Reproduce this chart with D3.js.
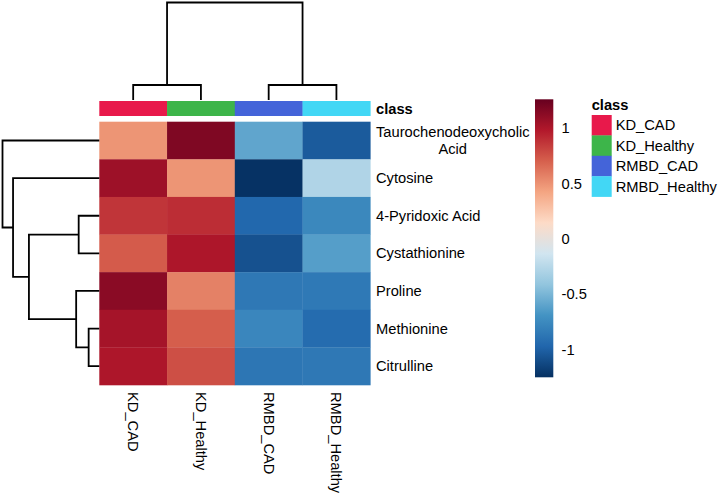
<!DOCTYPE html>
<html><head><meta charset="utf-8">
<script src="https://cdn.jsdelivr.net/npm/d3@7"></script>
<style>body{margin:0;background:#fff}svg{display:block}text{font-family:"Liberation Sans",Arial,sans-serif;fill:#000}</style>
</head><body><svg id="c" width="722" height="497"></svg>
<script>
// ---- data ----
const rows = ["Taurochenodeoxycholic\nAcid","Cytosine","4-Pyridoxic Acid","Cystathionine","Proline","Methionine","Citrulline"];
const cols = ["KD_CAD","KD_Healthy","RMBD_CAD","RMBD_Healthy"];
const kdCad       = [0.49, 1.06, 0.87, 0.72, 1.13, 1.03, 1.00];
const kdHealthy   = [1.17, 0.49, 0.90, 1.00, 0.57, 0.71, 0.77];
const rmbdCad     = [-0.59, -1.24, -0.96, -1.08, -0.86, -0.77, -0.87];
const rmbdHealthy = [-1.03, -0.28, -0.76, -0.63, -0.855, -0.935, -0.86];
const series = [kdCad, kdHealthy, rmbdCad, rmbdHealthy];
const classColors = ["#E8194B","#3DB54A","#4464D9","#42D7F5"];
const legendTicks = [1, 0.5, 0, -0.5, -1];
const legendTickLabels = ["1", "0.5", "0", "-0.5", "-1"];
const colorDomain = [-1.25, 1.26];
const palette = ["#053061","#2166AC","#4393C3","#92C5DE","#D1E5F0","#FDDBC7","#F4A582","#D6604D","#B2182B","#67001F"];
// dendrograms: [childA, childB, height]; leaves are indices, merges are "m<k>"
const rowMerges = [[5,6,1.1],[2,3,2.13],[4,"m0",2.39],["m1","m2",7.27],[1,"m3",8.91],[0,"m4",10]];
const colMerges = [[0,1,1.54],[2,3,1.54],["m0","m1",10]];

// ---- layout ----
const svg = d3.select("#c");
const hm = {x0:99.3, x1:370.3, y0:121.7, y1:385};
const x = d3.scaleBand().domain(d3.range(cols.length)).range([hm.x0, hm.x1]);
const y = d3.scaleBand().domain(d3.range(rows.length)).range([hm.y0, hm.y1]);
const color = d3.scaleLinear()
  .domain(d3.range(palette.length).map(i => colorDomain[0] + i*(colorDomain[1]-colorDomain[0])/(palette.length-1)))
  .range(palette).interpolate(d3.interpolateRgb).clamp(true);
const FS = 14.7;

// cells
series.forEach((vals, j) => {
  svg.append("g").selectAll("rect").data(vals).join("rect")
    .attr("x", x(j)).attr("y", (d,i) => y(i))
    .attr("width", x.bandwidth()+0.3).attr("height", y.bandwidth()+0.3)
    .attr("fill", d => color(d));
});

// class bar
svg.append("g").selectAll("rect").data(cols).join("rect")
  .attr("x", (d,j) => x(j)).attr("y", 101).attr("width", x.bandwidth()+0.3).attr("height", 15)
  .attr("fill", (d,j) => classColors[j]);
svg.append("text").attr("x", 376).attr("y", 109).attr("dy","0.35em")
  .attr("font-size", FS).attr("font-weight","bold").text("class");

// row labels
rows.forEach((r,i) => {
  const lines = r.split("\n");
  const cy = y(i) + y.bandwidth()/2;
  if (lines.length === 1) {
    svg.append("text").attr("x", 376).attr("y", cy).attr("dy","0.35em").attr("font-size", FS).text(r);
  } else {
    const t1 = svg.append("text").attr("x", 376).attr("y", cy-8.3).attr("dy","0.35em").attr("font-size", FS).text(lines[0]);
    const w = t1.node().getComputedTextLength();
    svg.append("text").attr("x", 376 + w/2).attr("y", cy+8.7).attr("dy","0.35em")
      .attr("text-anchor","middle").attr("font-size", FS).text(lines[1]);
  }
});

// column labels
cols.forEach((c,j) => {
  const cx = x(j) + x.bandwidth()/2, ty = 392;
  svg.append("text").attr("x", cx).attr("y", ty).attr("dy","0.35em")
    .attr("transform", `rotate(90,${cx},${ty})`).attr("font-size", FS).text(c);
});

// dendrogram helper
function dendro(merges, leafPos, hScale, horizontal) {
  const nodes = [];
  const get = k => typeof k === "number" ? {p: leafPos(k), h: 0} : nodes[+k.slice(1)];
  const g = svg.append("g").attr("fill","none").attr("stroke","#000").attr("stroke-width",1.8);
  merges.forEach(([a,b,h]) => {
    const A = get(a), B = get(b);
    const H = hScale(h), hA = hScale(A.h), hB = hScale(B.h);
    let d;
    if (horizontal) d = `M${hA},${A.p}H${H}V${B.p}H${hB}`;
    else d = `M${A.p},${hA}V${H}H${B.p}V${hB}`;
    g.append("path").attr("d", d);
    nodes.push({p:(A.p+B.p)/2, h:h});
  });
}
dendro(rowMerges, i => y(i)+y.bandwidth()/2, d3.scaleLinear().domain([0,10]).range([99.3, 2.5]), true);
dendro(colMerges, j => x(j)+x.bandwidth()/2, d3.scaleLinear().domain([0,10]).range([100, 2.5]), false);

// colour bar
const cb = {x:535, w:18.3, y0:99.3, y1:377.3};
const cbScale = d3.scaleLinear().domain(colorDomain).range([cb.y1, cb.y0]);
const grad = svg.append("defs").append("linearGradient").attr("id","cbg")
  .attr("x1",0).attr("y1",1).attr("x2",0).attr("y2",0);
palette.forEach((c,i) => grad.append("stop").attr("offset", i/(palette.length-1)).attr("stop-color", c));
svg.append("rect").attr("x", cb.x).attr("y", cb.y0).attr("width", cb.w).attr("height", cb.y1-cb.y0).attr("fill","url(#cbg)");
svg.append("g").selectAll("text").data(legendTicks).join("text")
  .attr("x", 561.5).attr("y", d => cbScale(d)).attr("dy","0.35em").attr("font-size", FS)
  .text((d,i) => legendTickLabels[i]);

// class legend
svg.append("text").attr("x", 591.7).attr("y", 105).attr("dy","0.35em")
  .attr("font-size", FS).attr("font-weight","bold").text("class");
const lg = d3.scaleBand().domain(d3.range(cols.length)).range([115, 196.6]);
svg.append("g").selectAll("rect").data(cols).join("rect")
  .attr("x", 591.7).attr("y", (d,i) => lg(i)).attr("width", 20).attr("height", lg.bandwidth()+0.3)
  .attr("fill", (d,i) => classColors[i]);
svg.append("g").selectAll("text").data(cols).join("text")
  .attr("x", 615.7).attr("y", (d,i) => lg(i)+lg.bandwidth()/2).attr("dy","0.35em").attr("font-size", FS)
  .text(d => d);
</script></body></html>
